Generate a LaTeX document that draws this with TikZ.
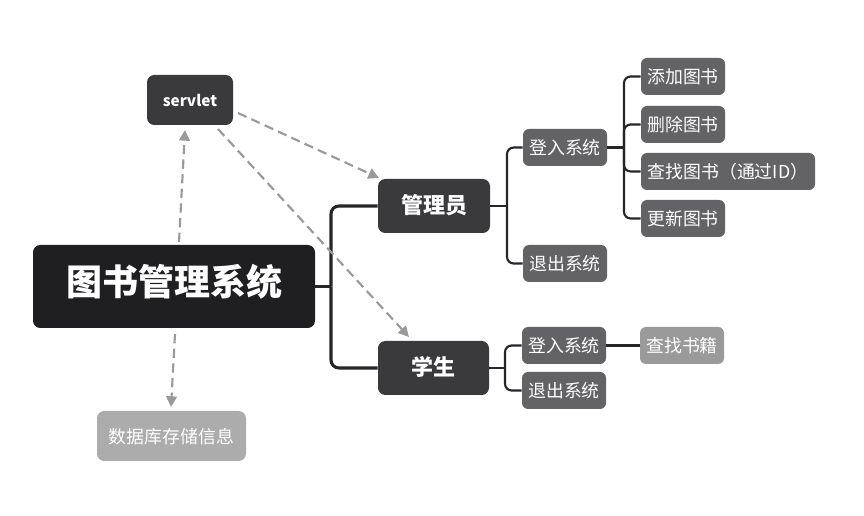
\documentclass[tikz,border=0pt]{standalone}
\usepackage{fontspec}
\setmainfont{Noto Sans CJK SC}
\usetikzlibrary{arrows.meta}
\definecolor{cRoot}{HTML}{1F1F21}
\definecolor{cOne}{HTML}{3A3A3C}
\definecolor{cTwo}{HTML}{636365}
\definecolor{cFind}{HTML}{9A9A9A}
\definecolor{cDb}{HTML}{ACACAC}
\definecolor{cLine}{HTML}{262628}
\definecolor{cDash}{HTML}{9A9A9C}
\tikzset{
  sz/.style 2 args={minimum width=#1*0.75pt, minimum height=#2*0.75pt},
  box/.style={inner sep=0pt, rounded corners=5.5pt, text=white, align=center, text height=1.1em, text depth=0pt},
  rootbox/.style={box, fill=cRoot, text height=1.32em, font=\bfseries\fontsize{27}{30}\selectfont},
  onebox/.style={box, fill=cOne, text height=1.16em, font=\bfseries\fontsize{16.5}{20}\selectfont},
  twobox/.style={box, fill=cTwo, rounded corners=4.5pt, font=\fontsize{13.4}{15}\selectfont},
  srvbox/.style={box, fill=cOne, text height=0.95em, font=\bfseries\fontsize{11.5}{14}\selectfont},
  findbox/.style={box, fill=cFind, rounded corners=4.5pt, font=\fontsize{13.4}{15}\selectfont},
  dbbox/.style={box, fill=cDb, font=\fontsize{13.4}{16}\selectfont},
  mainlink/.style={draw=cLine, line width=2.3pt, rounded corners=6pt},
  sublink/.style={draw=cLine, line width=1.6pt, rounded corners=5pt},
  dlink/.style={draw=cDash, line width=1.6pt, dash pattern=on 7pt off 4pt, -{Triangle[length=8pt,width=8pt]}}
}
\begin{document}
\begin{tikzpicture}[x=0.75pt,y=-0.75pt]
\useasboundingbox[fill=white] (0,0) rectangle (864,516);
% nodes
\node[rootbox, sz={282}{83}] (root) at (174,286.5) {图书管理系统};
\node[srvbox, sz={86}{50}] (srv) at (190,100) {servlet};
\node[onebox, sz={112}{54}] (adm) at (434,206) {管理员};
\node[onebox, sz={111}{54}] (stu) at (433.5,368) {学生};
\node[twobox, sz={84}{37}] (alog) at (565,147.5) {登入系统};
\node[twobox, sz={84}{37}] (aout) at (565,263.5) {退出系统};
\node[twobox, sz={84}{37}] (add) at (683,76.5) {添加图书};
\node[twobox, sz={84}{37}] (del) at (683,124.5) {删除图书};
\node[twobox, sz={174}{37}] (find) at (728,171.5) {查找图书（通过ID）};
\node[twobox, sz={84}{37}] (upd) at (683,218.5) {更新图书};
\node[twobox, sz={84}{37}] (slog) at (564,345.5) {登入系统};
\node[twobox, sz={84}{37}] (sout) at (564,390.5) {退出系统};
\node[findbox, sz={84}{37}] (sfind) at (682,345.5) {查找书籍};
\node[dbbox, sz={149}{50}] (db) at (171.5,436) {数据库存储信息};
% tree links
\coordinate (t1) at (331,286.5);
\draw[mainlink] (root.east) -- (t1);
\draw[mainlink] (t1) |- (adm.west);
\draw[mainlink] (t1) |- (stu.west);
\coordinate (t2) at (507,206);
\draw[sublink] (adm.east) -- (t2);
\draw[sublink] (t2) |- (alog.west);
\draw[sublink] (t2) |- (aout.west);
\coordinate (t3) at (624,147.5);
\draw[sublink] (alog.east) -- (t3);
\draw[sublink] (t3) |- (add.west);
\draw[sublink] (t3) |- (del.west);
\draw[sublink] (t3) |- (find.west);
\draw[sublink] (t3) |- (upd.west);
\coordinate (t4) at (505,368);
\draw[sublink] (stu.east) -- (t4);
\draw[sublink] (t4) |- (slog.west);
\draw[sublink] (t4) |- (sout.west);
\draw[sublink] (slog.east) -- (sfind.west);
% dashed links
\coordinate (d1s) at (179,242);
\coordinate (d1e) at (185,130);
\draw[dlink] (d1s) -- (d1e);
\coordinate (d2s) at (238,113);
\coordinate (d2e) at (379,178);
\draw[dlink] (d2s) -- (d2e);
\coordinate (d3s) at (218,129);
\coordinate (d3e) at (409,337);
\draw[dlink] (d3s) -- (d3e);
\coordinate (d4s) at (175,334);
\coordinate (d4e) at (171,407);
\draw[dlink] (d4s) -- (d4e);
\end{tikzpicture}
\end{document}
